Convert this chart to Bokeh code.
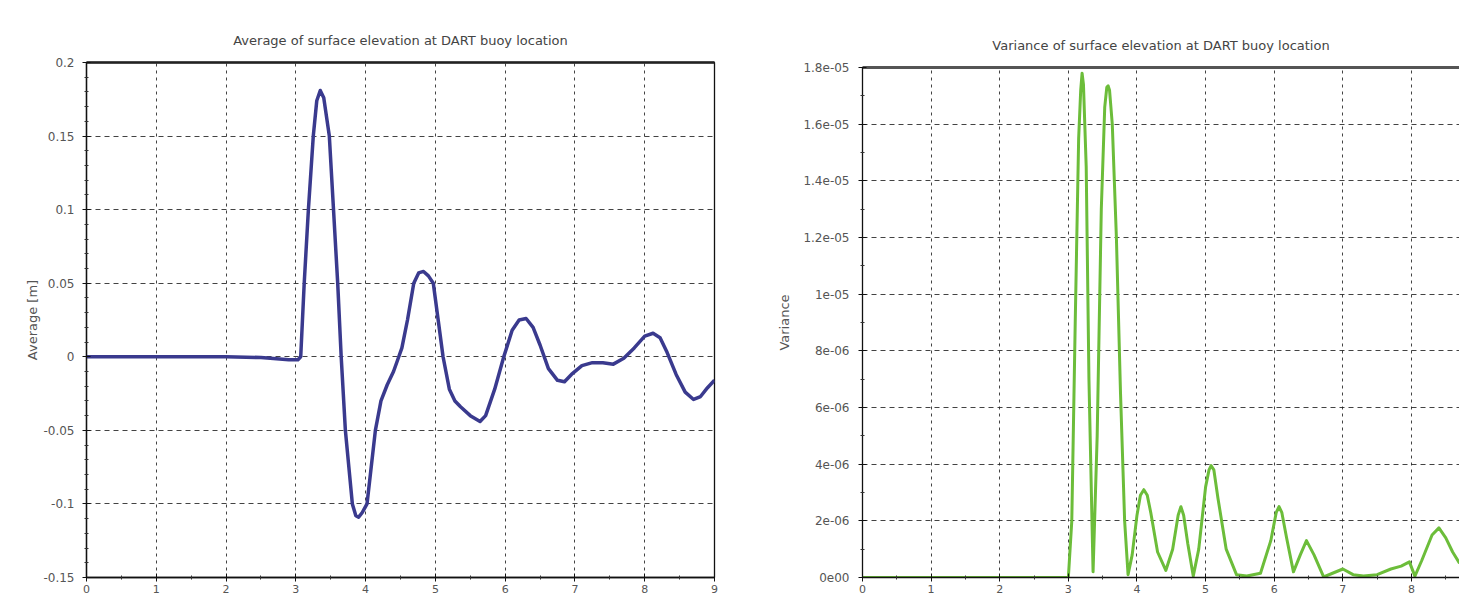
from bokeh.plotting import figure
from bokeh.layouts import row
from bokeh.models import FixedTicker, LinearAxis, Range1d
from bokeh.embed import file_html
from bokeh.resources import INLINE

# ---------------- data ----------------
avg_x = [0, 1, 2, 2.5, 2.9, 3.03, 3.07, 3.12, 3.18, 3.25, 3.3, 3.35, 3.4, 3.48, 3.54, 3.6,
         3.65, 3.71, 3.81, 3.86, 3.9, 3.95, 4.02, 4.14, 4.22, 4.31, 4.4, 4.46, 4.52, 4.6,
         4.69, 4.76, 4.83, 4.9, 4.97, 5.04, 5.11, 5.2, 5.28, 5.36, 5.5, 5.64, 5.72, 5.85,
         5.98, 6.1, 6.2, 6.3, 6.4, 6.5, 6.62, 6.75, 6.85, 6.95, 7.1, 7.25, 7.4, 7.55, 7.7,
         7.85, 8.0, 8.12, 8.22, 8.32, 8.45, 8.58, 8.7, 8.8, 8.9, 9.0]
avg_y = [0, 0, 0, -0.0005, -0.002, -0.002, 0.0, 0.05, 0.1, 0.15, 0.174, 0.181, 0.176, 0.15, 0.1, 0.05,
         0.0, -0.05, -0.1, -0.108, -0.109, -0.106, -0.1, -0.05, -0.03, -0.019, -0.01, -0.002, 0.006, 0.025,
         0.05, 0.057, 0.058, 0.055, 0.05, 0.025, 0.0, -0.022, -0.03, -0.034, -0.04, -0.044, -0.04, -0.022,
         0.0, 0.018, 0.025, 0.026, 0.02, 0.008, -0.008, -0.016, -0.017, -0.012, -0.006, -0.004, -0.004, -0.005, -0.001,
         0.006, 0.014, 0.016, 0.013, 0.003, -0.012, -0.024, -0.029, -0.027, -0.021, -0.016]

var_x = [0, 1, 2, 3.0, 3.05, 3.1, 3.15, 3.18, 3.2, 3.22, 3.26, 3.3, 3.36, 3.42, 3.48, 3.53, 3.56, 3.58,
         3.6, 3.64, 3.7, 3.76, 3.82, 3.87, 3.93, 4.0, 4.05, 4.1, 4.15, 4.2, 4.3, 4.42, 4.52, 4.6, 4.64,
         4.68, 4.74, 4.82, 4.9, 5.0, 5.05, 5.08, 5.12, 5.18, 5.3, 5.45, 5.6, 5.8, 5.95, 6.03, 6.07, 6.11,
         6.18, 6.28, 6.38, 6.47, 6.58, 6.72, 6.85, 7.0, 7.15, 7.3, 7.5, 7.7, 7.85, 7.97, 8.05, 8.15, 8.3,
         8.4, 8.5, 8.6, 8.7]
var_y = [0, 0, 0, 0, 2e-6, 9e-6, 1.55e-5, 1.72e-5, 1.78e-5, 1.74e-5, 1.45e-5, 7e-6, 0.2e-6, 5e-6, 1.3e-5, 1.66e-5, 1.73e-5, 1.735e-5,
         1.72e-5, 1.6e-5, 1.2e-5, 6.5e-6, 2e-6, 0.1e-6, 0.8e-6, 2.2e-6, 2.9e-6, 3.1e-6, 2.9e-6, 2.3e-6, 0.9e-6, 0.25e-6, 1.0e-6, 2.2e-6, 2.5e-6,
         2.2e-6, 1.2e-6, 0.05e-6, 1.0e-6, 3.2e-6, 3.8e-6, 3.95e-6, 3.8e-6, 2.8e-6, 1.0e-6, 0.1e-6, 0.05e-6, 0.15e-6, 1.3e-6, 2.3e-6, 2.5e-6, 2.3e-6,
         1.4e-6, 0.2e-6, 0.8e-6, 1.3e-6, 0.8e-6, 0.02e-6, 0.15e-6, 0.3e-6, 0.1e-6, 0.05e-6, 0.1e-6, 0.3e-6, 0.4e-6, 0.55e-6, 0.05e-6, 0.6e-6, 1.5e-6,
         1.75e-6, 1.4e-6, 0.9e-6, 0.5e-6]

left_xticks = [0, 1, 2, 3, 4, 5, 6, 7, 8, 9]
left_xminor = [0.5, 1.5, 2.5, 3.5, 4.5, 5.5, 6.5, 7.5, 8.5]
left_yticks = [-0.15, -0.1, -0.05, 0, 0.05, 0.1, 0.15, 0.2]
left_ylabels = ["-0.15", "-0.1", "-0.05", "0", "0.05", "0.1", "0.15", "0.2"]
left_yminor = [-0.14, -0.13, -0.12, -0.11, -0.09, -0.08, -0.07, -0.06, -0.04, -0.03, -0.02, -0.01,
               0.01, 0.02, 0.03, 0.04, 0.06, 0.07, 0.08, 0.09, 0.11, 0.12, 0.13, 0.14,
               0.16, 0.17, 0.18, 0.19]

right_xticks = [0, 1, 2, 3, 4, 5, 6, 7, 8]
right_xminor = [0.5, 1.5, 2.5, 3.5, 4.5, 5.5, 6.5, 7.5, 8.5]
right_yticks = [0, 2e-6, 4e-6, 6e-6, 8e-6, 1e-5, 1.2e-5, 1.4e-5, 1.6e-5, 1.8e-5]
right_ylabels = ["0e00", "2e-06", "4e-06", "6e-06", "8e-06", "1e-05", "1.2e-05", "1.4e-05", "1.6e-05", "1.8e-05"]
right_yminor = [1e-6, 3e-6, 5e-6, 7e-6, 9e-6, 1.1e-5, 1.3e-5, 1.5e-5, 1.7e-5]

FONT = "DejaVu Sans"
TXT = "#555555"


def style_axis(ax, size="12px"):
    ax.major_label_text_font = FONT
    ax.major_label_text_font_size = size
    ax.major_label_text_color = TXT
    ax.axis_line_color = "#111111"
    ax.axis_line_width = 1.3
    ax.major_tick_line_color = "#111111"
    ax.minor_tick_line_color = "#333333"
    ax.major_tick_in = 4
    ax.major_tick_out = 4
    ax.minor_tick_in = 2
    ax.minor_tick_out = 2
    ax.axis_label_text_font = FONT
    ax.axis_label_text_font_size = "13px"
    ax.axis_label_text_font_style = "normal"
    ax.axis_label_text_color = TXT


def top_border(p, color, width):
    ax = LinearAxis(ticker=FixedTicker(ticks=[]), axis_line_color=color, axis_line_width=width,
                    major_tick_line_color=None, minor_tick_line_color=None,
                    major_label_text_color=None, major_tick_in=0, major_tick_out=0,
                    minor_tick_in=0, minor_tick_out=0, major_label_standoff=0)
    p.add_layout(ax, "above")


def style_grid(p, xt, yt):
    p.xgrid.ticker = xt
    p.ygrid.ticker = yt
    p.xgrid.grid_line_color = "#222222"
    p.xgrid.grid_line_dash = "3 4"
    p.xgrid.grid_line_alpha = 0.85
    p.ygrid.grid_line_color = "#222222"
    p.ygrid.grid_line_dash = "5 4"
    p.ygrid.grid_line_alpha = 0.85


def style_title(p):
    p.title.text_font = FONT
    p.title.text_font_size = "13px"
    p.title.text_font_style = "normal"
    p.title.text_color = "#444444"
    p.title.align = "center"
    p.title.standoff = 29


def no_align(p):
    if "frame_align" in p.properties():
        p.frame_align = False


# ---------------- left plot ----------------
p1 = figure(width=740, height=600, x_range=Range1d(0, 9), y_range=Range1d(-0.15, 0.2),
            output_backend="svg", toolbar_location=None,
            title="Average of surface elevation at DART buoy location",
            min_border_left=86, min_border_right=26, min_border_top=62, min_border_bottom=23)
p1.outline_line_color = "#111111"
p1.outline_line_width = 1.3
style_title(p1)
no_align(p1)

lx = FixedTicker(ticks=left_xticks, minor_ticks=left_xminor)
ly = FixedTicker(ticks=left_yticks, minor_ticks=left_yminor)
bx1 = p1.below[0]
ly1 = p1.left[0]
bx1.ticker = lx
ly1.ticker = ly
ly1.major_label_overrides = {t: s for t, s in zip(left_yticks, left_ylabels)}
style_axis(bx1, "11px")
style_axis(ly1)
bx1.major_label_standoff = 3
ly1.major_label_standoff = 8
ly1.axis_label = "Average [m]"
ly1.axis_label_standoff = 0
style_grid(p1, lx, ly)
top_border(p1, "#222222", 2.5)

p1.line(avg_x, avg_y, line_color="#3a3a8e", line_width=3.5, line_join="round")

# ---------------- right plot ----------------
p2 = figure(width=719, height=600, x_range=Range1d(0, 8.7), y_range=Range1d(0, 1.8e-5),
            output_backend="svg", toolbar_location=None,
            title="Variance of surface elevation at DART buoy location",
            min_border_left=122, min_border_right=0, min_border_top=67, min_border_bottom=23)
p2.outline_line_color = None
style_title(p2)
no_align(p2)

rx = FixedTicker(ticks=right_xticks, minor_ticks=right_xminor)
ry = FixedTicker(ticks=right_yticks, minor_ticks=right_yminor)
bx2 = p2.below[0]
ly2 = p2.left[0]
bx2.ticker = rx
ly2.ticker = ry
ly2.major_label_overrides = {t: s for t, s in zip(right_yticks, right_ylabels)}
style_axis(bx2, "11px")
style_axis(ly2)
bx2.major_label_standoff = 3
ly2.major_label_standoff = 9
ly2.axis_label = "Variance"
ly2.axis_label_standoff = 8
style_grid(p2, rx, ry)
top_border(p2, "#555555", 3)

p2.line(var_x, var_y, line_color="#6cbd3a", line_width=3, line_join="round")

layout = row(p1, p2)
open("out.html", "w").write(file_html(layout, INLINE))
